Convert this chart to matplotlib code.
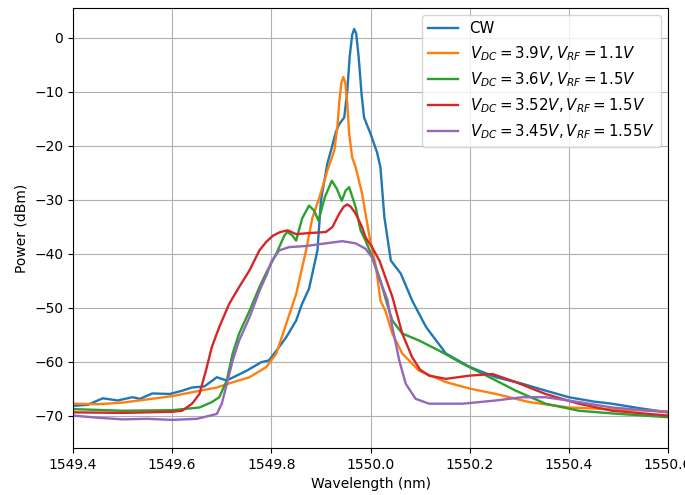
import matplotlib
matplotlib.use("Agg")
import matplotlib.pyplot as plt

# wavelength (nm) / power (dBm), one pair of lists per trace
cw_wl = [1549.40, 1549.43, 1549.46, 1549.49, 1549.52, 1549.535, 1549.56, 1549.595, 1549.62,
         1549.64, 1549.665, 1549.69, 1549.71, 1549.73, 1549.75, 1549.78, 1549.795, 1549.81,
         1549.83, 1549.85, 1549.862, 1549.876, 1549.893, 1549.90, 1549.913, 1549.92, 1549.93,
         1549.937, 1549.947, 1549.953, 1549.958, 1549.963, 1549.967, 1549.971, 1549.976,
         1549.982, 1549.987, 1550.0, 1550.013, 1550.02,
         1550.028, 1550.041, 1550.061, 1550.084, 1550.112, 1550.152, 1550.2, 1550.253,
         1550.306, 1550.35, 1550.4, 1550.45, 1550.487, 1550.54, 1550.6]
cw_db = [-68.2, -68.0, -66.8, -67.2, -66.6, -66.9, -65.9, -66.0, -65.4,
         -64.8, -64.6, -62.9, -63.5, -62.6, -61.7, -60.1, -59.8, -58.0,
         -55.5, -52.4, -49.3, -46.5, -39.4, -30.2, -23.3, -21.0, -17.5,
         -16.0, -14.8, -10.0, -3.5, 0.5, 1.6, 0.8, -3.5,
         -10.5, -14.8, -17.8, -21.2, -24.0,
         -33.3, -41.3, -43.7, -48.7, -53.6, -58.5, -61.0, -62.9,
         -64.1, -65.3, -66.6, -67.4, -67.8, -68.6, -69.4]

o_wl = [1549.40, 1549.45, 1549.50, 1549.55, 1549.60, 1549.65, 1549.69, 1549.72, 1549.756,
        1549.79, 1549.81, 1549.83, 1549.85, 1549.87, 1549.883, 1549.897, 1549.913, 1549.927,
        1549.933, 1549.937, 1549.941, 1549.945, 1549.949, 1549.953, 1549.957, 1549.963,
        1549.97, 1549.983,
        1549.997, 1550.011, 1550.02, 1550.03, 1550.044, 1550.064, 1550.098, 1550.152,
        1550.2, 1550.253, 1550.32, 1550.4, 1550.5, 1550.6]
o_db = [-67.8, -67.9, -67.6, -67.0, -66.4, -65.5, -64.8, -63.9, -62.9,
        -61.0, -58.5, -53.0, -47.5, -39.4, -33.3, -29.6, -24.6, -20.9,
        -16.6, -12.0, -8.5, -7.3, -8.3, -12.0, -17.8, -22.2,
        -24.0, -28.9,
        -36.4, -42.5, -48.7, -50.6, -54.8, -58.5, -61.7, -63.8,
        -65.0, -66.0, -67.5, -68.5, -68.9, -69.2]

g_wl = [1549.40, 1549.50, 1549.60, 1549.655, 1549.68, 1549.695, 1549.71, 1549.722,
        1549.735, 1549.756, 1549.776, 1549.79, 1549.81, 1549.826, 1549.832, 1549.842, 1549.85,
        1549.862, 1549.876, 1549.886, 1549.895, 1549.908, 1549.922, 1549.932, 1549.942,
        1549.95, 1549.957, 1549.97, 1549.98, 1549.99,
        1550.003, 1550.02, 1550.034, 1550.044, 1550.064, 1550.098, 1550.139, 1550.186,
        1550.24, 1550.293, 1550.353, 1550.42, 1550.487, 1550.6]
g_db = [-68.8, -69.1, -69.0, -68.5, -67.5, -66.6, -63.5, -58.5,
        -54.8, -50.6, -46.2, -43.5, -40.0, -36.7, -36.0, -36.6, -37.6,
        -33.5, -31.1, -32.0, -33.9, -29.5, -26.5, -28.0, -30.2,
        -28.3, -27.7, -31.4, -35.7, -37.6,
        -40.5, -45.0, -49.5, -52.4, -54.8, -56.1, -58.0, -60.4,
        -62.9, -65.4, -67.8, -69.1, -69.6, -70.3]

r_wl = [1549.40, 1549.50, 1549.60, 1549.62, 1549.64, 1549.655, 1549.668, 1549.68,
        1549.695, 1549.715, 1549.735, 1549.756, 1549.776, 1549.79, 1549.803, 1549.818,
        1549.833, 1549.85, 1549.876, 1549.91, 1549.923, 1549.937, 1549.946, 1549.953,
        1549.96, 1549.97, 1549.983, 1549.99,
        1550.003, 1550.018, 1550.044, 1550.064, 1550.084, 1550.1, 1550.118, 1550.152,
        1550.2, 1550.246, 1550.293, 1550.32, 1550.353, 1550.42, 1550.487, 1550.6]
r_db = [-69.4, -69.5, -69.3, -69.1, -67.8, -66.0, -61.7, -57.3,
        -53.6, -49.3, -46.2, -43.1, -39.4, -37.8, -36.7, -36.0,
        -35.7, -36.4, -36.2, -36.0, -35.1, -32.6, -31.3, -30.9,
        -31.3, -32.6, -35.1, -37.0,
        -38.8, -41.3, -48.0, -54.8, -59.2, -61.5, -62.6, -63.2,
        -62.6, -62.3, -63.8, -64.8, -66.0, -67.8, -69.1, -70.0]

p_wl = [1549.40, 1549.45, 1549.50, 1549.55, 1549.60, 1549.65, 1549.69, 1549.70, 1549.712,
        1549.722, 1549.735, 1549.756, 1549.776, 1549.792, 1549.80, 1549.816, 1549.836,
        1549.87, 1549.91, 1549.943, 1549.97, 1549.99, 1550.003, 1550.018, 1550.034,
        1550.044, 1550.058, 1550.071, 1550.091, 1550.118, 1550.186, 1550.253, 1550.306,
        1550.353, 1550.42, 1550.487, 1550.6]
p_db = [-70.0, -70.4, -70.7, -70.6, -70.8, -70.6, -69.7, -67.8, -63.5,
        -59.8, -56.1, -51.8, -46.9, -43.6, -41.5, -39.4, -38.8,
        -38.6, -38.1, -37.7, -38.1, -39.1, -40.7, -44.7, -48.5,
        -53.6, -59.8, -64.1, -66.9, -67.8, -67.8, -67.2, -66.6,
        -66.6, -67.5, -68.5, -69.4]

labels = ["CW",
          r"$V_{DC} = 3.9V, V_{RF} = 1.1V$",
          r"$V_{DC} = 3.6V, V_{RF} = 1.5V$",
          r"$V_{DC} = 3.52V, V_{RF} = 1.5V$",
          r"$V_{DC} = 3.45V, V_{RF} = 1.55V$"]

traces = [(cw_wl, cw_db), (o_wl, o_db), (g_wl, g_db), (r_wl, r_db), (p_wl, p_db)]
colors = ["tab:blue", "tab:orange", "tab:green", "tab:red", "tab:purple"]

fig = plt.figure(figsize=(6.85, 4.95), dpi=100)
ax = fig.add_axes([0.1066, 0.095, 0.8686, 0.889])

for (wl, db), lab, c in zip(traces, labels, colors):
    ax.plot(wl, db, color=c, linewidth=1.7, label=lab)

ax.grid(True)
ax.set_xlim(1549.4, 1550.6)
ax.set_ylim(-76, 5.5)
ax.set_xticks([1549.4, 1549.6, 1549.8, 1550.0, 1550.2, 1550.4, 1550.6])
ax.set_xticklabels(["1549.4", "1549.6", "1549.8", "1550.0", "1550.2", "1550.4", "1550.6"])
ax.set_yticks([0, -10, -20, -30, -40, -50, -60, -70])
ax.set_xlabel("Wavelength (nm)")
ax.set_ylabel("Power (dBm)")
ax.legend(loc="upper right", fontsize=10.8)

fig.savefig("out.png", dpi=100)
